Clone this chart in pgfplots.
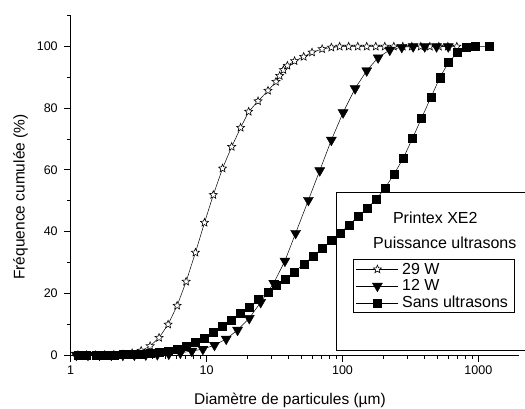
\documentclass[border=0pt]{standalone}
\usepackage{fontspec}
\setmainfont{Liberation Sans}
\usepackage{pgfplots}
\pgfplotsset{compat=1.18}
\pgfdeclareplotmark{ostar}{%
  \pgfpathmoveto{\pgfpointpolar{90}{\pgfplotmarksize}}%
  \pgfpathlineto{\pgfpointpolar{126}{0.45\pgfplotmarksize}}%
  \pgfpathlineto{\pgfpointpolar{162}{\pgfplotmarksize}}%
  \pgfpathlineto{\pgfpointpolar{198}{0.45\pgfplotmarksize}}%
  \pgfpathlineto{\pgfpointpolar{234}{\pgfplotmarksize}}%
  \pgfpathlineto{\pgfpointpolar{270}{0.45\pgfplotmarksize}}%
  \pgfpathlineto{\pgfpointpolar{306}{\pgfplotmarksize}}%
  \pgfpathlineto{\pgfpointpolar{342}{0.45\pgfplotmarksize}}%
  \pgfpathlineto{\pgfpointpolar{18}{\pgfplotmarksize}}%
  \pgfpathlineto{\pgfpointpolar{54}{0.45\pgfplotmarksize}}%
  \pgfpathclose
  \pgfusepathqfillstroke
}
\begin{document}
\begin{tikzpicture}
\useasboundingbox (0pt,0pt) rectangle (525pt,408pt);
\begin{axis}[
  at={(70.7pt,53pt)}, anchor=south west,
  scale only axis, width=448.6pt, height=339.3pt,
  xmode=log, xmin=1, xmax=2000, ymin=0, ymax=110,
  axis x line*=bottom, axis y line*=left,
  axis line style={line width=1pt,-},
  tick align=outside,
  major tick length=6.5pt, minor tick length=3.5pt,
  every tick/.style={black, line width=0.9pt},
  xtick={1,10,100,1000}, xticklabels={1,10,100,1000},
  ytick={0,20,40,60,80,100}, minor ytick={10,30,50,70,90,110},
  tick label style={font=\fontsize{12.5}{15}\selectfont},
  yticklabel style={xshift=-3pt},
  xticklabel style={yshift=-1pt},
  /pgf/number format/assume math mode=true,
  clip=false,
  legend style={at={(axis description cs:0.6286,0.2829)}, anchor=north west,
    draw=black, line width=0.9pt, fill=none,
    font=\fontsize{16}{18}\selectfont, inner xsep=3pt, inner ysep=1.5pt,
    row sep=0pt, nodes={inner xsep=3.5pt}},
  legend cell align=left,
  legend image code/.code={\draw[mark repeat=2,mark phase=2,#1] plot coordinates {(0pt,0pt) (21pt,0pt) (42pt,0pt)};},
]
\addplot[black, line width=0.5pt, mark=ostar, mark size=4.2pt, mark options={fill=white, line width=0.6pt}] coordinates {
(1.13,0.0) (1.31,0.0) (1.53,0.0) (1.78,0.05) (2.08,0.1) (2.43,0.2) (2.83,0.6)
(3.30,1.4) (3.84,2.9) (4.47,5.6) (5.21,9.9) (6.07,16.0) (7.07,23.8) (8.28,33.2)
(9.65,42.9) (11.2,51.9) (13.1,60.5) (15.3,67.5) (17.8,73.7) (20.4,78.9) (23.9,82.3)
(28.3,85.7) (32.4,88.6) (34.5,90.5) (36.7,92.4) (39.3,93.8) (44.4,95.3) (51.8,96.7)
(59.7,98.1) (70.8,99.2) (82.8,99.7) (95.3,100) (111,100) (129.5,100) (150.8,100)
(175.7,100) (204.7,100) (238.5,100) (277.7,100) (323.6,100) (376.9,100) (439.2,100)
(511.6,100) (596,100) (694,100)
};
\addlegendentry{29 W}
\addplot[black, line width=0.5pt, mark=triangle*, mark size=5.8pt, mark options={rotate=180, line width=0.4pt}] coordinates {
(1.10,0) (1.34,0) (1.63,0) (1.99,0) (2.42,0) (2.94,0.05) (3.57,0.1) (4.34,0.2)
(5.27,0.35) (6.41,0.7) (7.79,1.3) (9.39,1.9) (11.43,3.2) (13.94,5.2) (16.9,8.1)
(20.6,11.9) (25.0,17.1) (31.2,23.3) (37.7,30.5) (45.2,39.5) (56.1,50.2) (68.0,59.8)
(82.8,69.7) (101,78.6) (123.8,86.4) (150.8,92.2) (182.9,96.4) (222.8,98.9) (273,99.8)
(331,100) (403,100) (492,100) (600,100)
};
\addlegendentry{12 W}
\addplot[black, line width=0.5pt, mark=square*, mark size=4pt, mark options={line width=0.4pt}] coordinates {
(1.13,0) (1.31,0) (1.53,0) (1.78,0) (2.08,0.05) (2.43,0.1) (2.83,0.2) (3.30,0.35)
(3.84,0.6) (4.47,0.9) (5.24,1.3) (6.10,1.9) (7.07,2.7) (8.24,4.1) (9.60,5.6)
(11.2,7.5) (13.1,9.4) (15.2,11.3) (17.7,13.5) (20.7,15.6) (24.1,18.0) (28.2,20.2)
(32.7,22.5) (38.1,24.6) (44.4,27.0) (52.1,29.5) (60.7,32.0) (71.1,34.6) (82.4,37.1)
(95.4,39.4) (111.9,42.2) (130.4,45.0) (152.6,47.6) (178,50.6) (206,54.2) (240,58.7)
(280,63.8) (327,70.2) (381,76.7) (447,83.5) (520,89.9) (603,94.9) (703,98.1)
(819,99.7) (953,100) (1199,100)
};
\addlegendentry{Sans ultrasons}
\end{axis}
\draw[line width=0.9pt] (530pt,215.7pt) -- (336pt,215.7pt) -- (336pt,58pt) -- (530pt,58pt);
\node[anchor=base, inner sep=0pt, font=\fontsize{16}{18}\selectfont] at (435.3pt,185pt) {Printex XE2};
\node[anchor=base, inner sep=0pt, font=\fontsize{16}{18}\selectfont] at (444.8pt,159.7pt) {Puissance ultrasons};
\node[anchor=base, inner sep=0pt, font=\fontsize{15.5}{18}\selectfont] at (290pt,4pt) {Diamètre de particules (µm)};
\node[rotate=90, anchor=base, inner sep=0pt, font=\fontsize{15.5}{18}\selectfont] at (24.5pt,211pt) {Fréquence cumulée (\%)};
\end{tikzpicture}
\end{document}
